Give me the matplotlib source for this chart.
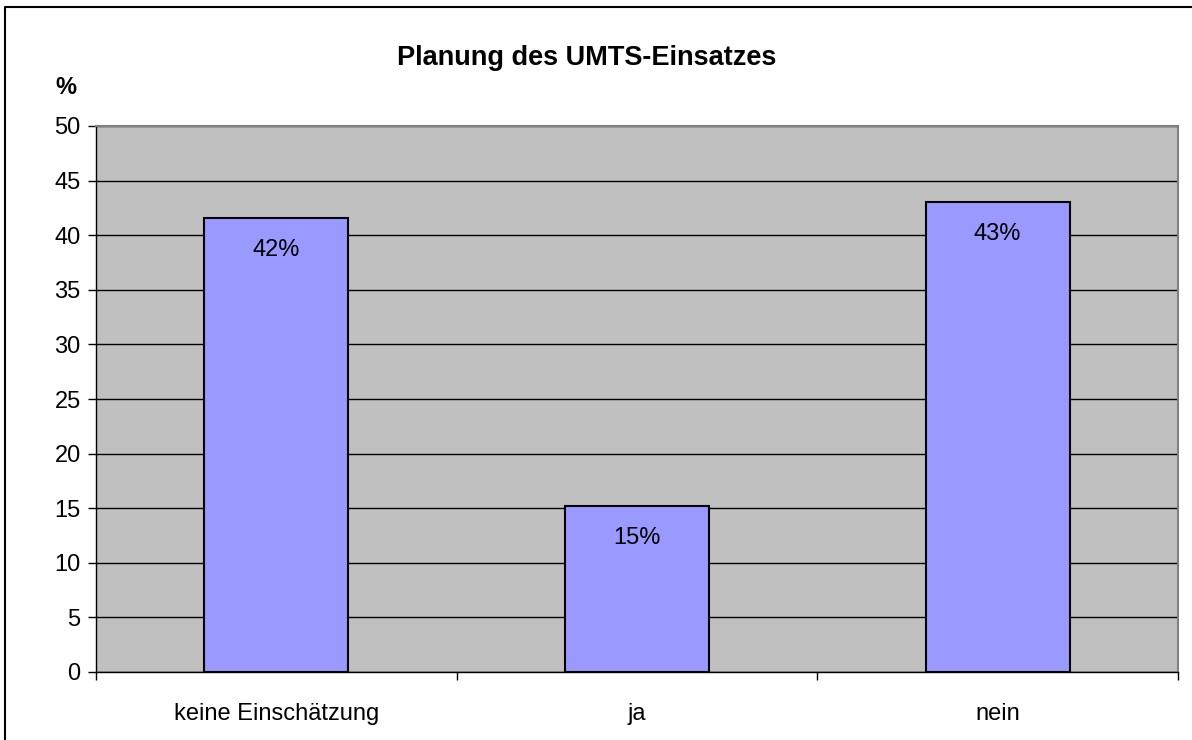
import matplotlib
matplotlib.use("Agg")
import matplotlib.pyplot as plt
from matplotlib.lines import Line2D

categories = ["keine Einschätzung", "ja", "nein"]
values = [41.6, 15.2, 43.0]
labels = ["42%", "15%", "43%"]
yticks = [0, 5, 10, 15, 20, 25, 30, 35, 40, 45, 50]

plt.rcParams['font.family'] = ['Liberation Sans', 'DejaVu Sans']

W, H = 1192, 740
fig = plt.figure(figsize=(W/100, H/100), dpi=100)
ax = fig.add_axes([96/W, 1-672/H, (1178-96)/W, (672-126)/H])
ax.set_facecolor('#c0c0c0')

x = list(range(len(categories)))
ax.bar(x, values, width=0.40, color='#9999ff', edgecolor='black', linewidth=1.5, zorder=3)
for xi, v, lab in zip(x, values, labels):
    ax.annotate(lab, (xi, v), xytext=(0, -32), textcoords='offset pixels',
                ha='center', va='center', fontsize=17, zorder=4)

ax.set_xlim(-0.5, 2.5)
ax.set_ylim(0, 50)
ax.set_yticks(yticks)
ax.set_yticklabels([str(t) for t in yticks], fontsize=17)
ax.yaxis.grid(True, color='black', linewidth=1, zorder=1)
ax.set_axisbelow(True)
ax.tick_params(axis='y', direction='out', length=6, width=1, pad=5)

ax.set_xticks([-0.5, 0.5, 1.5, 2.5])
ax.set_xticklabels([])
ax.tick_params(axis='x', direction='out', length=6, width=1)
ax.set_xticks(x, minor=True)
ax.set_xticklabels(categories, minor=True, fontsize=17)
ax.tick_params(axis='x', which='minor', length=0, pad=22)

for s in ['top', 'right']:
    ax.spines[s].set_color('#808080')
    ax.spines[s].set_linewidth(1.5)
for s in ['left', 'bottom']:
    ax.spines[s].set_color('black')
    ax.spines[s].set_linewidth(1)

fig.text(587/W, 1-58/H, "Planung des UMTS-Einsatzes", ha='center', va='center',
         fontsize=19.5, fontweight='bold')
fig.text(66/W, 1-87/H, "%", ha='center', va='center', fontsize=17, fontweight='bold')

fig.lines.append(Line2D([4.5/W, 4.5/W, 1.05], [-0.05, 1 - 6.5/H, 1 - 6.5/H],
                        transform=fig.transFigure, color='black', linewidth=1.5))

fig.savefig("out.png", dpi=100)
